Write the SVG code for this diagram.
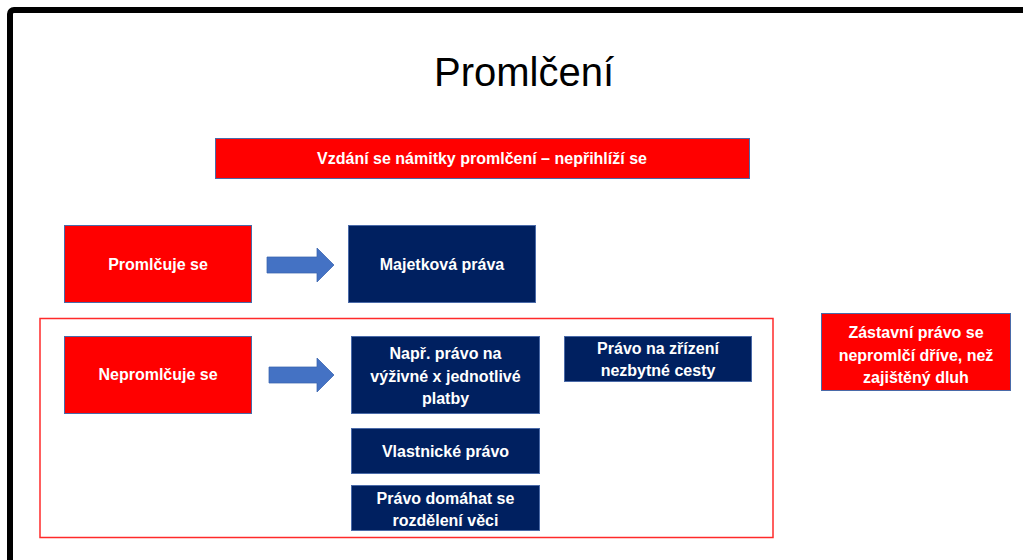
<svg xmlns="http://www.w3.org/2000/svg" width="1023" height="560" viewBox="0 0 1023 560">
<style>
.red{fill:#ff0000;stroke:#4a6aa8;stroke-width:1}
.navy{fill:#002060;stroke:#4a6aa8;stroke-width:1}
.t{font-family:"Liberation Sans",Arial,sans-serif;font-weight:bold;font-size:16px;fill:#ffffff;text-anchor:middle}
.arrow{fill:#4472c4;stroke:#3a63ad;stroke-width:0.75}
</style>
<rect x="0" y="0" width="1023" height="560" fill="#ffffff"/>
<rect id="frame" x="10" y="10" width="1040" height="600" rx="4" fill="none" stroke="#000000" stroke-width="6"/>
<g id="title"><text x="524" y="86" font-family="Liberation Sans,Arial,sans-serif" font-size="40" text-anchor="middle" fill="#000000">Promlčení</text></g>
<g id="banner"><rect class="red" x="215.5" y="138.5" width="534" height="40"/><text class="t" x="482" y="164">Vzdání se námitky promlčení – nepřihlíží se</text></g>
<rect id="group-box" x="40" y="318.5" width="733" height="219" fill="none" stroke="#ff2a2a" stroke-width="1.5"/>
<g id="promlcuje"><rect class="red" x="64.5" y="225.5" width="187" height="77"/><text class="t" x="158" y="270">Promlčuje se</text></g>
<g id="majetkova"><rect class="navy" x="348.5" y="225.5" width="187" height="77"/><text class="t" x="442" y="270">Majetková práva</text></g>
<g id="nepromlcuje"><rect class="red" x="64.5" y="336.5" width="187" height="77"/><text class="t" x="158" y="380">Nepromlčuje se</text></g>
<g id="vyzivne"><rect class="navy" x="351.5" y="336.5" width="188" height="77"/><text class="t" x="445.5" y="359">Např. právo na</text><text class="t" x="445.5" y="381.5">výživné x jednotlivé</text><text class="t" x="445.5" y="404">platby</text></g>
<g id="vlastnicke"><rect class="navy" x="351.5" y="428.5" width="188" height="45"/><text class="t" x="445.5" y="457">Vlastnické právo</text></g>
<g id="rozdeleni"><rect class="navy" x="351.5" y="485.5" width="188" height="45"/><text class="t" x="445.5" y="504">Právo domáhat se</text><text class="t" x="445.5" y="526">rozdělení věci</text></g>
<g id="cesta"><rect class="navy" x="564.5" y="336.5" width="187" height="45"/><text class="t" x="658" y="354">Právo na zřízení</text><text class="t" x="658" y="376">nezbytné cesty</text></g>
<g id="zastavni"><rect class="red" x="821.5" y="313.5" width="189" height="77"/><text class="t" x="916" y="338">Zástavní právo se</text><text class="t" x="916" y="360.5">nepromlčí dříve, než</text><text class="t" x="916" y="383">zajištěný dluh</text></g>
<g id="connectors">
<polygon class="arrow" points="267,257 317,257 317,248 334,265 317,282 317,273 267,273"/>
<polygon class="arrow" points="269,367 317,367 317,358 334,375 317,392 317,383 269,383"/>
</g>
</svg>
